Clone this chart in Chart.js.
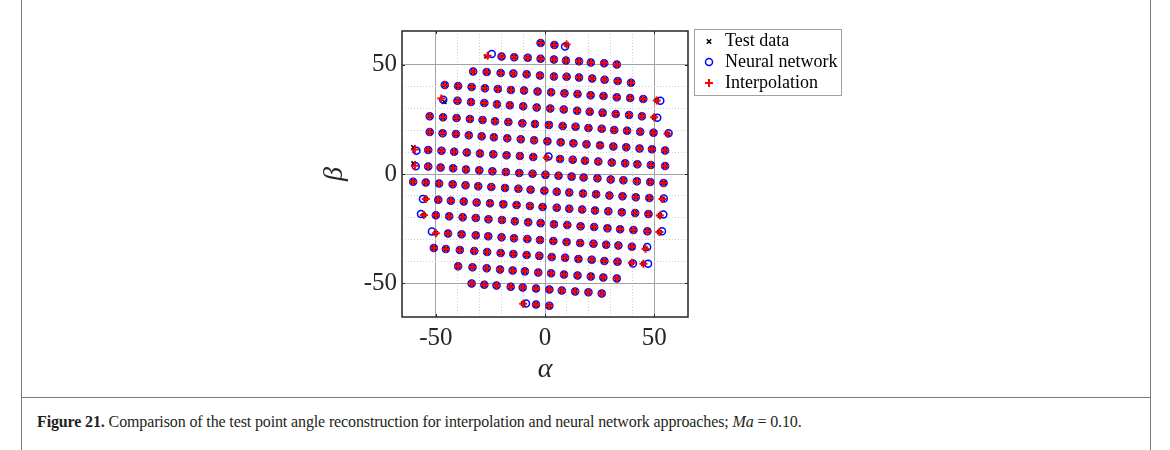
<!DOCTYPE html>
<html>
<head>
<meta charset="utf-8">
<script src="https://cdn.jsdelivr.net/npm/chart.js@4.4.1/dist/chart.umd.min.js"></script>
<style>
  html, body { margin: 0; padding: 0; background: #fff; }
  #page { position: relative; width: 1170px; height: 450px; overflow: hidden; }
  #wrap { position: absolute; left: 0; top: 0; width: 1170px; height: 400px; }
  .rule { position: absolute; background: #7a7a7a; }
  #caption { position: absolute; left: 37px; top: 412px; font-family: 'Liberation Serif', serif;
             font-size: 16px; line-height: 20px; color: #231f20; white-space: nowrap;
             letter-spacing: -0.13px; }
</style>
</head>
<body>
<div id="page">
  <div class="rule" style="left:21px;top:0;width:1px;height:450px"></div>
  <div class="rule" style="left:1150px;top:0;width:1px;height:450px"></div>
  <div class="rule" style="left:21px;top:397px;width:1130px;height:1px"></div>
  <div id="wrap"><canvas id="chart"></canvas></div>
  <div id="caption"><b>Figure 21.</b> Comparison of the test point angle reconstruction for interpolation and neural network approaches; <i>Ma</i> = 0.10.</div>
</div>
<script>
// Test points (alpha, beta), one line per row of the grid, top to bottom
const testAlpha = [
  -2.0, 4.3, 9.9,
  -26.8, -19.9, -14.1, -7.9, -2.0, 4.1, 9.6, 15.6, 21.0, 27.1, 32.9,
  -32.9, -26.7, -20.3, -14.5, -8.4, -2.3, 4.1, 9.9, 15.6, 21.6, 27.3, 33.3, 39.4,
  -45.9, -39.8, -33.6, -27.5, -21.6, -15.6, -9.6, -3.4, 2.8, 8.9, 14.9, 20.9, 26.8, 32.9, 39.0, 45.0, 51.2,
  -46.1, -40.1, -33.9, -27.8, -22.0, -16.1, -10.0, -3.8, 2.4, 8.6, 14.7, 20.5, 26.4, 32.4, 38.5, 44.4, 50.0,
  -52.8, -46.7, -40.5, -34.4, -28.6, -22.9, -16.8, -10.4, -4.6, 1.8, 8.1, 14.0, 19.9, 26.0, 31.7, 37.6, 43.6, 49.7, 56.1,
  -52.8, -46.9, -40.8, -34.9, -29.0, -23.4, -17.3, -11.1, -5.0, 1.1, 7.2, 13.0, 19.0, 25.2, 31.3, 37.2, 43.3, 49.0, 55.0,
  -60.3, -53.5, -47.4, -41.6, -35.8, -29.8, -23.7, -17.6, -11.5, -5.4, 0.8, 6.9, 12.7, 18.3, 24.4, 30.6, 36.7, 42.3, 48.5, 55.0,
  -60.2, -53.5, -47.8, -42.1, -36.2, -30.1, -24.1, -17.9, -11.8, -5.7, 0.2, 6.2, 12.2, 17.7, 24.0, 30.1, 35.9, 42.1, 48.2, 54.3,
  -60.4, -54.6, -48.5, -42.3, -36.4, -30.6, -24.6, -18.3, -12.2, -6.6, -0.3, 5.4, 11.1, 17.4, 23.4, 29.5, 35.5, 41.6, 47.8, 53.8,
  -54.6, -48.9, -43.1, -37.2, -31.3, -25.2, -19.1, -13.0, -6.9, -1.1, 5.4, 11.1, 17.0, 22.9, 29.0, 35.2, 41.3, 47.4, 52.6,
  -55.5, -50.0, -43.9, -37.7, -31.7, -25.9, -19.7, -13.8, -7.7, -2.0, 4.1, 10.2, 16.3, 22.5, 28.6, 34.4, 40.5, 46.9, 52.4,
  -50.0, -44.4, -38.2, -31.7, -26.0, -19.9, -14.2, -8.1, -2.3, 3.8, 9.9, 16.1, 22.2, 28.0, 33.6, 39.8, 46.0,
  -50.9, -45.4, -39.0, -32.4, -26.5, -20.3, -14.5, -8.4, -2.6, 3.1, 9.2, 15.3, 21.4, 27.2, 33.2, 39.8, 45.1,
  -39.8, -33.2, -26.7, -20.6, -14.8, -9.2, -3.1, 2.8, 8.7, 14.9, 21.0, 26.7, 32.9,
  -33.6, -27.8, -22.2, -15.7, -10.2, -4.1, 2.0, 7.7, 13.8, 19.9, 26.0,
  -10.0, -4.1, 2.0
];
const testBeta = [
  60.0, 59.1, 59.3,
  53.9, 53.8, 53.5, 53.2, 52.8, 52.4, 52.0, 51.6, 51.1, 50.7, 50.2,
  46.9, 46.7, 46.3, 46.0, 45.7, 45.1, 44.7, 44.5, 44.2, 43.7, 43.2, 42.6, 41.8,
  40.8, 40.3, 39.8, 39.3, 38.9, 38.5, 38.2, 37.8, 37.4, 37.0, 36.6, 36.1, 35.7, 35.2, 34.8, 34.3, 33.7,
  33.0, 33.5, 33.0, 32.5, 32.0, 31.5, 31.0, 30.5, 30.0, 29.5, 29.0, 28.5, 28.0, 27.5, 27.0, 26.5, 26.0,
  26.5, 26.0, 25.6, 25.2, 24.7, 24.2, 23.8, 23.3, 22.9, 22.5, 22.0, 21.6, 21.1, 20.7, 20.2, 19.8, 19.3, 18.9, 18.4,
  19.2, 18.7, 18.3, 17.8, 17.3, 16.8, 16.4, 15.9, 15.5, 15.0, 14.5, 14.1, 13.6, 13.2, 12.6, 12.2, 11.7, 11.3, 10.8,
  12.2, 11.0, 10.6, 10.2, 9.8, 9.4, 9.0, 8.6, 8.2, 7.8, 7.4, 6.9, 6.5, 6.1, 5.7, 5.3, 4.9, 4.5, 4.1, 3.7,
  4.8, 3.4, 3.0, 2.6, 2.1, 1.7, 1.3, 0.9, 0.5, 0.1, -0.4, -0.8, -1.2, -1.6, -2.0, -2.5, -2.9, -3.3, -3.7, -4.1,
  -3.5, -3.9, -4.3, -4.7, -5.2, -5.6, -6.0, -6.4, -6.8, -7.2, -7.7, -8.1, -8.5, -8.9, -9.3, -9.8, -10.2, -10.6, -11.0, -11.4,
  -11.4, -11.8, -12.2, -12.6, -13.1, -13.4, -13.8, -14.2, -14.7, -15.1, -15.5, -15.9, -16.3, -16.7, -17.1, -17.5, -17.9, -18.3, -19.0,
  -18.8, -18.9, -19.3, -19.8, -20.2, -20.7, -21.1, -21.6, -22.1, -22.5, -23.0, -23.4, -23.9, -24.3, -24.8, -25.3, -25.7, -26.2, -26.6,
  -27.1, -27.2, -27.6, -28.1, -28.5, -29.0, -29.4, -29.8, -30.2, -30.7, -31.1, -31.6, -32.0, -32.4, -32.8, -33.3, -34.2,
  -33.9, -34.4, -34.8, -35.3, -35.7, -36.2, -36.6, -37.1, -37.5, -38.0, -38.4, -38.9, -39.3, -39.8, -40.2, -40.6, -41.1,
  -42.3, -42.7, -43.2, -43.7, -44.2, -44.6, -45.1, -45.5, -46.0, -46.5, -46.9, -47.4, -47.9,
  -50.2, -50.7, -51.1, -51.6, -52.0, -52.5, -52.9, -53.4, -53.8, -54.2, -54.7,
  -59.4, -59.8, -60.4
];

// Points where the neural network / interpolation marker sits visibly apart
// from the test point: [point index, alpha, beta]
const nnMoved = [
  [2, 9.2, 58.4], [3, -24.4, 55.0], [43, 52.8, 33.6], [44, -46.6, 34.0], [60, 51.4, 25.8],
  [79, 56.6, 18.7], [99, -58.9, 10.7], [109, 1.6, 8.0], [119, -59.2, 3.6], [158, 54.4, -11.2],
  [159, -55.9, -11.4], [177, 54.2, -18.6], [178, -56.8, -18.3], [196, 53.6, -26.2],
  [197, -51.8, -26.3], [213, 46.8, -33.4], [229, 40.3, -41.0], [230, 47.2, -41.1], [255, -8.7, -59.3]
];
const interpMoved = [
  [3, -26.3, 54.2], [44, -47.5, 34.6], [99, -59.6, 11.2], [119, -59.6, 3.8]
];

const seriesNames = ['Test data', 'Neural network', 'Interpolation'];
const majorTicks = [-50, 0, 50];

const testPts = testAlpha.map((a, i) => ({ x: a, y: testBeta[i] }));
function movedCopy(list) {
  const pts = testPts.map(p => ({ x: p.x, y: p.y }));
  list.forEach(([i, a, b]) => { pts[i] = { x: a, y: b }; });
  return pts;
}
const nnPts = movedCopy(nnMoved);
const interpPts = movedCopy(interpMoved);

Chart.defaults.font.family = "'Liberation Serif', serif";

const isMajor = v => v % 50 === 0;
const isMinor = v => v % 10 === 0 && !isMajor(v);

function axis(titleText, isY) {
  return {
    type: 'linear',
    min: -65.5,
    max: 65.5,
    afterFit: s => { if (isY) s.width = 84; else s.height = 75; },
    ticks: {
      stepSize: 10,
      autoSkip: false,
      maxRotation: 0,
      padding: isY ? 5 : 6,
      color: '#262626',
      font: { size: 25 },
      callback: v => (isMajor(v) ? String(v) : '')
    },
    grid: {
      drawTicks: false,
      color: c => {
        const v = c.tick ? c.tick.value : NaN;
        if (isMajor(v)) return '#a3a3a3';
        if (isMinor(v)) return '#cfcfcf';
        return 'rgba(0,0,0,0)';
      },
      lineWidth: 1
    },
    border: {
      display: false,
      dash: c => (c.tick && isMajor(c.tick.value) ? [] : [1, 2])
    },
    title: {
      display: true,
      text: titleText,
      color: '#262626',
      font: { size: 28, style: 'italic' },
      padding: isY ? { top: 0, bottom: 0 } : { top: 0, bottom: 6 }
    }
  };
}

// box around the axes, inner tick marks, and the legend
const boxAndLegend = {
  id: 'boxAndLegend',
  afterDraw(chart) {
    const { ctx, chartArea: a, scales } = chart;
    ctx.save();
    ctx.strokeStyle = '#262626';
    ctx.lineWidth = 1;
    majorTicks.forEach(v => {
      const px = Math.round(scales.x.getPixelForValue(v)) + 0.5;
      const py = Math.round(scales.y.getPixelForValue(v)) + 0.5;
      ctx.beginPath();
      ctx.moveTo(px, a.bottom); ctx.lineTo(px, a.bottom - 3);
      ctx.moveTo(px, a.top); ctx.lineTo(px, a.top + 3);
      ctx.moveTo(a.left, py); ctx.lineTo(a.left + 3, py);
      ctx.moveTo(a.right, py); ctx.lineTo(a.right - 3, py);
      ctx.stroke();
    });
    ctx.lineWidth = 1.5;
    ctx.strokeRect(a.left, a.top, a.right - a.left, a.bottom - a.top);

    // legend
    const lx = 694, ly = 29, lw = 147, lh = 66;
    ctx.fillStyle = '#fff';
    ctx.fillRect(lx, ly, lw, lh);
    ctx.strokeStyle = '#a0a0a0';
    ctx.lineWidth = 1;
    ctx.strokeRect(lx + 0.5, ly + 0.5, lw, lh);
    const rowY = [41.5, 62, 83];
    const mx = 709;
    // test data: small x
    ctx.strokeStyle = '#000'; ctx.lineWidth = 1.5;
    ctx.beginPath();
    ctx.moveTo(mx - 2.2, rowY[0] - 2.2); ctx.lineTo(mx + 2.2, rowY[0] + 2.2);
    ctx.moveTo(mx - 2.2, rowY[0] + 2.2); ctx.lineTo(mx + 2.2, rowY[0] - 2.2);
    ctx.stroke();
    // neural network: blue circle
    ctx.strokeStyle = '#0000ff';
    ctx.beginPath(); ctx.arc(mx, rowY[1], 3.5, 0, Math.PI * 2); ctx.stroke();
    // interpolation: red plus
    ctx.strokeStyle = '#ff0000'; ctx.lineWidth = 2;
    ctx.beginPath();
    ctx.moveTo(mx - 4, rowY[2]); ctx.lineTo(mx + 4, rowY[2]);
    ctx.moveTo(mx, rowY[2] - 4); ctx.lineTo(mx, rowY[2] + 4);
    ctx.stroke();
    ctx.fillStyle = '#000';
    ctx.font = "18px 'Liberation Serif', serif";
    ctx.textBaseline = 'middle';
    ctx.textAlign = 'left';
    seriesNames.forEach((name, i) => ctx.fillText(name, 725, rowY[i]));
    ctx.restore();
  }
};

new Chart(document.getElementById('chart'), {
  type: 'scatter',
  data: {
    datasets: [
      {
        label: seriesNames[0], data: testPts, order: 3,
        pointStyle: 'crossRot', radius: 3, borderWidth: 1.5,
        borderColor: '#000', backgroundColor: '#000'
      },
      {
        label: seriesNames[1], data: nnPts, order: 2,
        pointStyle: 'circle', radius: 3.5, borderWidth: 1.5,
        borderColor: '#0000ff', backgroundColor: 'rgba(0,0,0,0)'
      },
      {
        label: seriesNames[2], data: interpPts, order: 1,
        pointStyle: 'cross', radius: 4, borderWidth: 2,
        borderColor: '#ff0000', backgroundColor: '#ff0000'
      }
    ]
  },
  options: {
    responsive: true,
    maintainAspectRatio: false,
    animation: false,
    events: [],
    layout: { padding: { left: 318, right: 482, top: 31, bottom: 8 } },
    plugins: { legend: { display: false }, tooltip: { enabled: false } },
    scales: {
      x: axis('α', false),
      y: axis('β', true)
    }
  },
  plugins: [boxAndLegend]
});
</script>
</body>
</html>
